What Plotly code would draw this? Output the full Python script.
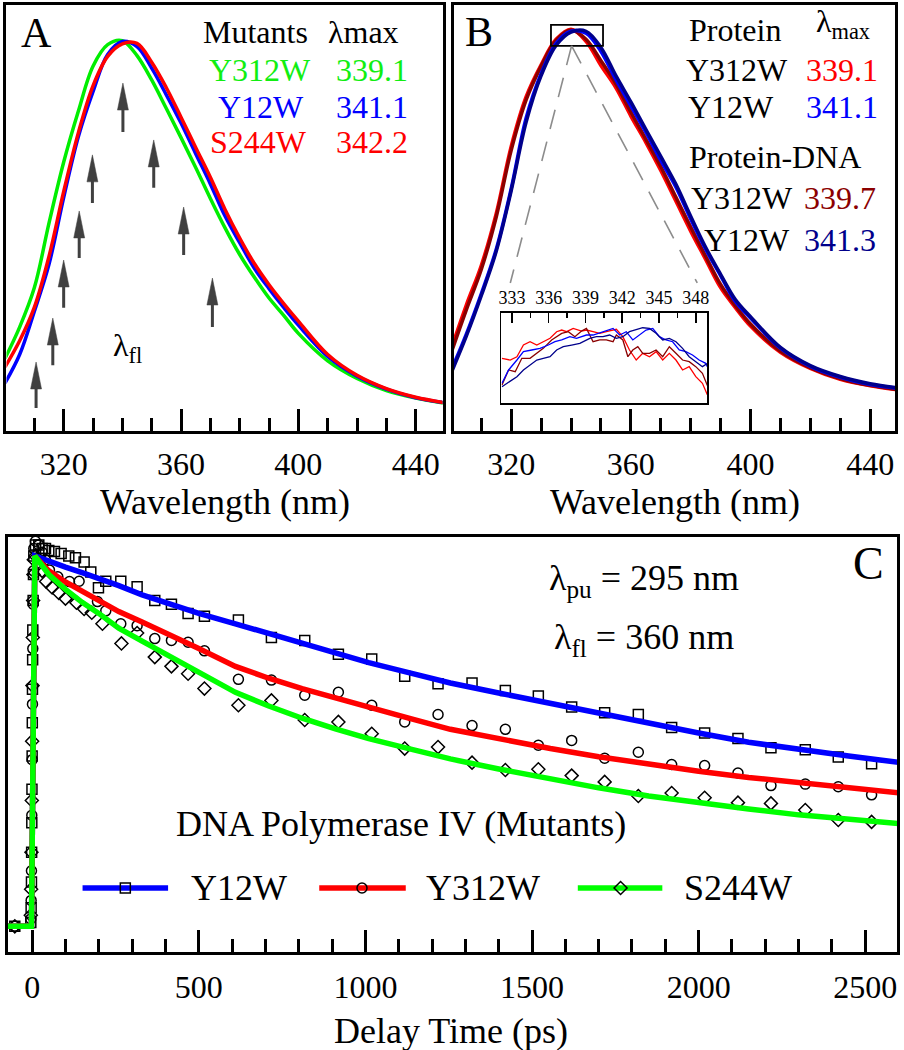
import plotly.graph_objects as go

# ================= DATA =================
# ---- Panel A: normalized emission spectra of mutants ----
wl_a = [300, 305, 310, 315, 320, 325, 330, 335, 340, 345, 350, 355, 360, 365, 370,
        375, 380, 385, 390, 395, 400, 410, 420, 430, 440, 450]
a_y312w = [0.19, 0.27, 0.37, 0.535, 0.69, 0.82, 0.935, 0.99, 1.0, 0.962, 0.90, 0.827, 0.753,
           0.677, 0.598, 0.523, 0.455, 0.397, 0.344, 0.30, 0.254, 0.184, 0.139, 0.108, 0.089, 0.076]
a_y12w = [0.127, 0.20, 0.31, 0.43, 0.60, 0.755, 0.87, 0.965, 0.998, 0.985, 0.93, 0.862, 0.79,
          0.712, 0.635, 0.553, 0.485, 0.42, 0.368, 0.32, 0.275, 0.195, 0.145, 0.112, 0.090, 0.077]
a_s244w = [0.168, 0.235, 0.32, 0.45, 0.615, 0.765, 0.885, 0.96, 0.992, 0.993, 0.945, 0.88, 0.805,
           0.728, 0.652, 0.57, 0.497, 0.432, 0.378, 0.33, 0.285, 0.20, 0.147, 0.113, 0.091, 0.077]

# arrows (lambda_fl marks) in panel A
arrow_wl = [310.6, 316.3, 320.0, 325.3, 329.8, 340.2, 350.7, 360.9, 370.7]
arrow_tail = [0.064, 0.173, 0.319, 0.446, 0.586, 0.767, 0.625, 0.454, 0.270]
arrow_tip = [0.181, 0.293, 0.441, 0.566, 0.709, 0.892, 0.747, 0.576, 0.395]

# ---- Panel B: protein vs protein-DNA ----
wl_b = [300, 305, 310, 315, 320, 325, 330, 335, 340, 345, 350, 355, 360, 365, 370,
        375, 380, 385, 390, 395, 400, 410, 420, 430, 440, 449]
b_y312w = [0.21, 0.317, 0.415, 0.544, 0.71, 0.833, 0.912, 0.975, 1.0, 0.97, 0.91, 0.855, 0.785,
           0.72, 0.65, 0.575, 0.50, 0.43, 0.36, 0.31, 0.265, 0.20, 0.16, 0.133, 0.117, 0.107]
b_y312w_dna = [0.20, 0.305, 0.405, 0.535, 0.70, 0.825, 0.908, 0.972, 0.998, 0.975, 0.922, 0.865, 0.795,
               0.728, 0.66, 0.585, 0.51, 0.438, 0.368, 0.315, 0.27, 0.203, 0.162, 0.135, 0.118, 0.108]
b_y12w = [0.156, 0.245, 0.345, 0.455, 0.605, 0.78, 0.89, 0.965, 0.995, 0.99, 0.945, 0.875, 0.81,
          0.745, 0.675, 0.61, 0.53, 0.455, 0.39, 0.325, 0.285, 0.21, 0.165, 0.138, 0.12, 0.111]
b_y12w_dna = [0.150, 0.24, 0.34, 0.45, 0.60, 0.77, 0.885, 0.96, 0.993, 0.995, 0.955, 0.885, 0.82,
              0.752, 0.685, 0.617, 0.537, 0.46, 0.393, 0.33, 0.288, 0.212, 0.167, 0.14, 0.122, 0.112]

# ---- Panel B inset (peak region) ----
in_wl_y312w = [332.19, 332.86, 333.41, 333.94, 334.48, 335.03, 335.56, 336.11, 336.65, 337.06, 337.46,
               338.0, 338.68, 339.08, 339.62, 340.16, 340.70, 341.52, 342.05, 342.59, 343.14, 343.67,
               344.22, 344.76, 345.30, 345.84, 346.38, 346.92, 347.46, 348.0, 348.54, 348.94]
in_y312w = [0.497, 0.478, 0.514, 0.641, 0.677, 0.641, 0.677, 0.714, 0.786, 0.804, 0.786, 0.822, 0.793,
            0.804, 0.786, 0.768, 0.786, 0.812, 0.732, 0.587, 0.478, 0.551, 0.514, 0.569, 0.478, 0.551,
            0.478, 0.370, 0.406, 0.297, 0.225, 0.10]
in_wl_y312w_dna = [332.19, 332.73, 333.27, 333.81, 334.48, 335.03, 335.56, 336.24, 336.65, 337.06, 337.6,
                   338.14, 338.68, 339.08, 339.62, 340.16, 340.70, 341.25, 341.52, 342.05, 342.46, 342.86,
                   343.27, 343.67, 344.22, 344.76, 345.30, 345.84, 346.38, 346.92, 347.46, 348.0, 348.54, 348.94]
in_y312w_dna = [0.207, 0.370, 0.351, 0.497, 0.497, 0.551, 0.605, 0.696, 0.732, 0.768, 0.786, 0.732, 0.793,
                0.822, 0.677, 0.696, 0.696, 0.677, 0.750, 0.696, 0.514, 0.587, 0.623, 0.551, 0.551, 0.587,
                0.514, 0.623, 0.551, 0.478, 0.460, 0.406, 0.333, 0.20]
in_wl_y12w = [332.19, 332.73, 333.41, 333.94, 334.62, 335.29, 335.97, 336.51, 337.06, 337.73, 338.27,
              339.08, 339.62, 340.16, 340.70, 341.25, 341.79, 342.33, 342.86, 343.40, 343.94, 344.49,
              345.03, 345.57, 346.11, 346.65, 347.19, 347.73, 348.27, 348.81, 348.94]
in_y12w = [0.225, 0.370, 0.478, 0.569, 0.587, 0.605, 0.641, 0.677, 0.696, 0.732, 0.714, 0.750, 0.750,
           0.775, 0.804, 0.822, 0.750, 0.786, 0.696, 0.750, 0.804, 0.822, 0.732, 0.696, 0.677, 0.587,
           0.569, 0.533, 0.478, 0.442, 0.406]
in_wl_y12w_dna = [332.19, 332.86, 333.41, 333.94, 334.48, 335.03, 335.56, 336.11, 336.65, 337.19, 337.87,
                  338.54, 339.35, 339.89, 340.43, 340.97, 341.52, 342.05, 342.59, 343.14, 343.67, 344.22,
                  344.76, 345.30, 345.84, 346.38, 346.92, 347.46, 348.0, 348.54, 348.94]
in_y12w_dna = [0.188, 0.243, 0.297, 0.370, 0.424, 0.478, 0.497, 0.514, 0.587, 0.623, 0.641, 0.659, 0.714,
               0.732, 0.732, 0.750, 0.714, 0.732, 0.786, 0.804, 0.829, 0.822, 0.768, 0.696, 0.714, 0.677,
               0.605, 0.514, 0.460, 0.406, 0.44]

# ---- Panel C: fluorescence transients (data markers + fits) ----
fit_t = [-80, -2, 8, 50, 100, 150, 200, 260, 330, 410, 500, 610, 710, 810, 910, 1010, 1130,
         1255, 1400, 1555, 1700, 1850, 2000, 2150, 2300, 2450, 2605]
fit_y12w = [0, 0, 1.0, 0.985, 0.97, 0.955, 0.94, 0.92, 0.895, 0.87, 0.845, 0.817, 0.79, 0.763,
            0.737, 0.712, 0.685, 0.657, 0.63, 0.602, 0.575, 0.547, 0.522, 0.497, 0.477, 0.46, 0.442]
fit_y312w = [0, 0, 1.0, 0.96, 0.93, 0.905, 0.88, 0.85, 0.822, 0.79, 0.75, 0.702, 0.67, 0.642,
             0.616, 0.592, 0.562, 0.532, 0.506, 0.48, 0.458, 0.437, 0.419, 0.402, 0.387, 0.373, 0.36]
fit_s244w = [0, 0, 1.0, 0.95, 0.91, 0.875, 0.845, 0.805, 0.77, 0.73, 0.685, 0.632, 0.595, 0.562,
             0.533, 0.507, 0.48, 0.452, 0.425, 0.397, 0.374, 0.352, 0.333, 0.317, 0.301, 0.289, 0.277]

sq_t = [-52, -4, -3, -2, -1.5, -1, -0.5, 0, 0.5, 1, 1.5, 2, 3, 4, 5,
        10, 20, 30, 40, 50, 67, 87, 110, 130, 156, 176, 199, 221, 266, 315, 368, 418, 468, 517,
        619, 718, 818, 919, 1019, 1118, 1218, 1320, 1420, 1519, 1619, 1718, 1819, 1919, 2018,
        2118, 2217, 2320, 2419, 2519]
sq_v = [0, 0.01, 0.05, 0.12, 0.2, 0.28, 0.37, 0.46, 0.55, 0.64, 0.72, 0.8, 0.88, 0.95, 1.0,
        1.03, 1.03, 1.02, 1.02, 1.015, 1.012, 1.007, 1.0, 0.995, 0.984, 0.957, 0.914, 0.932, 0.932,
        0.917, 0.880, 0.870, 0.845, 0.837, 0.827, 0.780, 0.772, 0.735, 0.722, 0.675, 0.655, 0.657,
        0.637, 0.622, 0.592, 0.577, 0.572, 0.537, 0.522, 0.507, 0.482, 0.477, 0.457, 0.439]
ci_t = [-52, -4, -3, -2, -1, 0, 1, 2, 3, 4, 5,
        10, 20, 30, 40, 52, 77, 112, 141, 196, 221, 266, 315, 368, 418, 468, 517, 619, 718, 818,
        919, 1019, 1118, 1218, 1320, 1420, 1519, 1619, 1718, 1819, 1919, 2018, 2118, 2217, 2320,
        2419, 2519]
ci_v = [0, 0.02, 0.07, 0.15, 0.3, 0.45, 0.6, 0.75, 0.87, 0.96, 1.02,
        1.04, 1.03, 1.01, 0.99, 0.962, 0.944, 0.931, 0.932, 0.877, 0.852, 0.817, 0.812, 0.777, 0.772,
        0.767, 0.744, 0.667, 0.665, 0.624, 0.632, 0.597, 0.552, 0.572, 0.542, 0.532, 0.489, 0.502,
        0.454, 0.470, 0.437, 0.434, 0.414, 0.380, 0.384, 0.377, 0.355]
di_t = [-52, -4, -3, -2, -1, 0, 1, 2, 3, 4, 5,
        10, 20, 30, 42, 60, 80, 100, 133, 156, 179, 211, 268, 315, 368, 418, 468, 517, 619, 718,
        818, 919, 1019, 1118, 1218, 1320, 1420, 1519, 1619, 1718, 1819, 1919, 2018, 2118, 2217,
        2320, 2419, 2519]
di_v = [0, 0.03, 0.1, 0.2, 0.34, 0.5, 0.65, 0.78, 0.88, 0.95, 0.99,
        1.0, 0.98, 0.96, 0.931, 0.915, 0.90, 0.885, 0.874, 0.857, 0.847, 0.817, 0.764, 0.792, 0.727,
        0.702, 0.682, 0.642, 0.597, 0.610, 0.557, 0.552, 0.520, 0.480, 0.484, 0.442, 0.422, 0.424,
        0.407, 0.390, 0.352, 0.360, 0.347, 0.334, 0.332, 0.314, 0.287, 0.282]

# ================= LAYOUT HELPERS =================
FIG_W, FIG_H = 904, 1050
FONT = "Liberation Serif"


def fx(p):
    return p / FIG_W


def fy(p):
    return 1 - p / FIG_H


# plot areas in pixels: (left, top, right, bottom)
AREA_A = (3.5, 5, 442, 431)
AREA_B = (453.5, 5, 897, 431)
AREA_C = (4.8, 536.5, 899, 951.5)
AREA_IN = (501.25, 312.75, 708.25, 403.25)

RANGE_A = ([300.51, 449.15], [0.0051, 1.091])
RANGE_B = ([300.88, 448.32], [0.005, 1.060])
RANGE_C = ([-73.1, 2595.3], [-0.068, 1.0527])
RANGE_IN = ([332.15, 348.94], [0.008, 0.992])


def xdom(a):
    return [fx(a[0]), fx(a[2])]


def ydom(a):
    return [fy(a[3]), fy(a[1])]


def base_x(area, rng, anchor, dtick, tick0, minor_dtick, lw=3, tlen=22, mlen=13, tw=3,
           fsize=32, standoff=3, side='bottom'):
    return dict(domain=xdom(area), range=rng, anchor=anchor, side=side,
                showline=True, linewidth=lw, linecolor='black', mirror=True,
                showgrid=False, zeroline=False,
                ticks='inside', ticklen=tlen, tickwidth=tw, tickcolor='black',
                dtick=dtick, tick0=tick0,
                minor=dict(ticks='inside', ticklen=mlen, tickwidth=tw, tickcolor='black',
                           dtick=minor_dtick, showgrid=False),
                tickfont=dict(family=FONT, size=fsize, color='black'),
                ticklabelstandoff=standoff)


def base_y(area, rng, anchor, lw=3):
    return dict(domain=ydom(area), range=rng, anchor=anchor,
                showline=True, linewidth=lw, linecolor='black', mirror=True,
                showgrid=False, zeroline=False, ticks='', showticklabels=False)


fig = go.Figure()

# ---- Panel A traces ----
for yv, col in [(a_y312w, '#00EE00'), (a_y12w, '#0000FF'), (a_s244w, '#FF0000')]:
    fig.add_trace(go.Scatter(x=wl_a, y=yv, mode='lines', line=dict(color=col, width=3.5, shape='spline'),
                             xaxis='x', yaxis='y', showlegend=False))

# ---- Panel B traces ----
for yv, col in [(b_y312w, '#FF0000'), (b_y312w_dna, '#8B0000'), (b_y12w, '#0000FF'), (b_y12w_dna, '#00008B')]:
    fig.add_trace(go.Scatter(x=wl_b, y=yv, mode='lines', line=dict(color=col, width=3.5, shape='spline'),
                             xaxis='x2', yaxis='y2', showlegend=False))

# ---- Panel C traces ----
for tt, vv, sym in [(sq_t, sq_v, 'square-open'), (ci_t, ci_v, 'circle-open'), (di_t, di_v, 'diamond-open')]:
    fig.add_trace(go.Scatter(x=tt, y=vv, mode='markers',
                             marker=dict(symbol=sym, size=10, color='black', line=dict(width=1.5)),
                             xaxis='x3', yaxis='y3', showlegend=False))
for yv, col in [(fit_y12w, '#0000FF'), (fit_y312w, '#FF0000'), (fit_s244w, '#00FF00')]:
    fig.add_trace(go.Scatter(x=fit_t, y=yv, mode='lines', line=dict(color=col, width=5.5),
                             xaxis='x3', yaxis='y3', showlegend=False))

# ---- Inset traces ----
for xx, yv, col in [(in_wl_y312w, in_y312w, '#FF0000'), (in_wl_y312w_dna, in_y312w_dna, '#8B0000'),
                    (in_wl_y12w, in_y12w, '#0000FF'), (in_wl_y12w_dna, in_y12w_dna, '#00008B')]:
    fig.add_trace(go.Scatter(x=xx, y=yv, mode='lines', line=dict(color=col, width=1.3),
                             xaxis='x4', yaxis='y4', showlegend=False))

# ---- Custom legend for panel C (pixel overlay) ----
LEGEND_ITEMS = [  # (x0, x1, xmarker, color, symbol, label, label_x)
    (80, 166, 123, '#0000FF', 'square-open', 'Y12W', 187),
    (318, 405, 361, '#FF0000', 'circle-open', 'Y312W', 423),
    (578, 663, 621, '#00FF00', 'diamond-open', 'S244W', 683),
]
LEGEND_Y = 888
for x0, x1, xm, col, sym, lab, lx in LEGEND_ITEMS:
    fig.add_trace(go.Scatter(x=[x0, x1], y=[LEGEND_Y, LEGEND_Y], mode='lines',
                             line=dict(color=col, width=5.5), xaxis='x5', yaxis='y5', showlegend=False))
    fig.add_trace(go.Scatter(x=[xm], y=[LEGEND_Y], mode='markers',
                             marker=dict(symbol=sym, size=10, color='black', line=dict(width=1.5)),
                             xaxis='x5', yaxis='y5', showlegend=False))

# ---- Shapes ----
shapes = []
# Panel A arrows
a_px_per_nm = (AREA_A[2] - AREA_A[0]) / (RANGE_A[0][1] - RANGE_A[0][0])
a_px_per_unit = (AREA_A[3] - AREA_A[1]) / (RANGE_A[1][1] - RANGE_A[1][0])
HEAD_LEN_PX, HEAD_HALF_W_PX = 27, 5.5
for w, t0, t1 in zip(arrow_wl, arrow_tail, arrow_tip):
    hl = HEAD_LEN_PX / a_px_per_unit
    hw = HEAD_HALF_W_PX / a_px_per_nm
    shapes.append(dict(type='line', xref='x', yref='y', x0=w, x1=w, y0=t0, y1=t1 - hl * 0.8,
                       line=dict(color='#404040', width=3)))
    shapes.append(dict(type='path', xref='x', yref='y',
                       path=f"M {w - hw},{t1 - hl} L {w + hw},{t1 - hl} L {w},{t1} Z",
                       fillcolor='#404040', line=dict(color='#404040', width=0.5)))

# Panel B zoom box and dashed guide lines
ZOOM_BOX = dict(x0=333.3, x1=350.7, y0=0.959, y1=1.011)
shapes.append(dict(type='rect', xref='x2', yref='y2', **ZOOM_BOX, line=dict(color='black', width=1.8)))
apex_x = 340.2
guide_ends = [(319.7, 0.3716), (382.2, 0.3716)]
for gx, gy in guide_ends:
    shapes.append(dict(type='line', xref='x2', yref='y2', x0=apex_x, y0=ZOOM_BOX['y0'], x1=gx, y1=gy,
                       line=dict(color='#8C8C8C', width=1.6, dash='20px,13px')))

# ---- Annotations ----
def txt(s, x, y, size, color='black', xanchor='left', yanchor='middle'):
    return dict(text=s, x=fx(x), y=fy(y), xref='paper', yref='paper', xanchor=xanchor, yanchor=yanchor,
                showarrow=False, font=dict(family=FONT, size=size, color=color))


GREEN_T = '#11EE11'
ann = [
    # Panel A
    txt('A', 34, 33, 42, xanchor='center'),
    txt('Mutants', 253.5, 32, 32, xanchor='center'),
    txt('λmax', 325, 32, 32),
    txt('Y312W', 258, 70, 32, GREEN_T, xanchor='center'),
    txt('339.1', 333, 70, 32, GREEN_T),
    txt('Y12W', 259.5, 107, 32, '#0000FF', xanchor='center'),
    txt('341.1', 333, 107, 32, '#0000FF'),
    txt('S244W', 257, 142, 32, '#FF0000', xanchor='center'),
    txt('342.2', 333, 142, 32, '#FF0000'),
    txt('λ<sub>fl</sub>', 109, 325, 32, yanchor='top'),
    txt('Wavelength (nm)', 223.5, 502, 36, xanchor='center'),
    # Panel B
    txt('B', 479, 32, 42, xanchor='center'),
    txt('Protein', 688, 30, 32),
    txt('λ<sub>max</sub>', 816, 1, 32, yanchor='top'),
    txt('Y312W', 685, 70, 32),
    txt('339.1', 805, 70, 32, '#FF0000'),
    txt('Y12W', 687, 107, 32),
    txt('341.1', 805, 107, 32, '#0000FF'),
    txt('Protein-DNA', 688, 157, 32),
    txt('Y312W', 690, 198, 32),
    txt('339.7', 803, 198, 32, '#8B0000'),
    txt('Y12W', 703, 240, 32),
    txt('341.3', 803, 240, 32, '#00008B'),
    txt('Wavelength (nm)', 676, 502, 36, xanchor='center'),
    # Panel C
    txt('C', 870, 563, 46, xanchor='center'),
    txt('λ<sub>pu</sub> = 295 nm', 547, 556, 36, yanchor='top'),
    txt('λ<sub>fl</sub> = 360 nm', 552, 615, 36, yanchor='top'),
    txt('DNA Polymerase IV (Mutants)', 172, 824, 36),
    txt('Delay Time (ps)', 450, 1031, 36, xanchor='center'),
]
for x0, x1, xm, col, sym, lab, lx in LEGEND_ITEMS:
    ann.append(txt(lab, lx, LEGEND_Y, 36))

fig.update_layout(
    width=FIG_W, height=FIG_H,
    margin=dict(l=0, r=0, t=0, b=0),
    paper_bgcolor='white', plot_bgcolor='rgba(0,0,0,0)',
    showlegend=False,
    xaxis=base_x(AREA_A, RANGE_A[0], 'y', 40, 320, 10),
    yaxis=base_y(AREA_A, RANGE_A[1], 'x'),
    xaxis2=base_x(AREA_B, RANGE_B[0], 'y2', 40, 320, 10),
    yaxis2=base_y(AREA_B, RANGE_B[1], 'x2'),
    xaxis3=base_x(AREA_C, RANGE_C[0], 'y3', 500, 0, 100, standoff=5),
    yaxis3=base_y(AREA_C, RANGE_C[1], 'x3'),
    xaxis4=base_x(AREA_IN, RANGE_IN[0], 'y4', 3, 333, 1.5, lw=1.5, tlen=10, mlen=5, tw=1.5,
                  fsize=18, standoff=0, side='top'),
    yaxis4=base_y(AREA_IN, RANGE_IN[1], 'x4', lw=1.5),
    xaxis5=dict(domain=[0, 1], range=[0, FIG_W], anchor='y5', visible=False),
    yaxis5=dict(domain=[0, 1], range=[FIG_H, 0], anchor='x5', visible=False),
    shapes=shapes,
    annotations=ann,
)

fig.write_html("out.html",
               config={'displayModeBar': False, 'staticPlot': True},
               post_script="document.body.style.margin='0';document.body.style.padding='0';"
                           "document.body.style.overflow='hidden';")
